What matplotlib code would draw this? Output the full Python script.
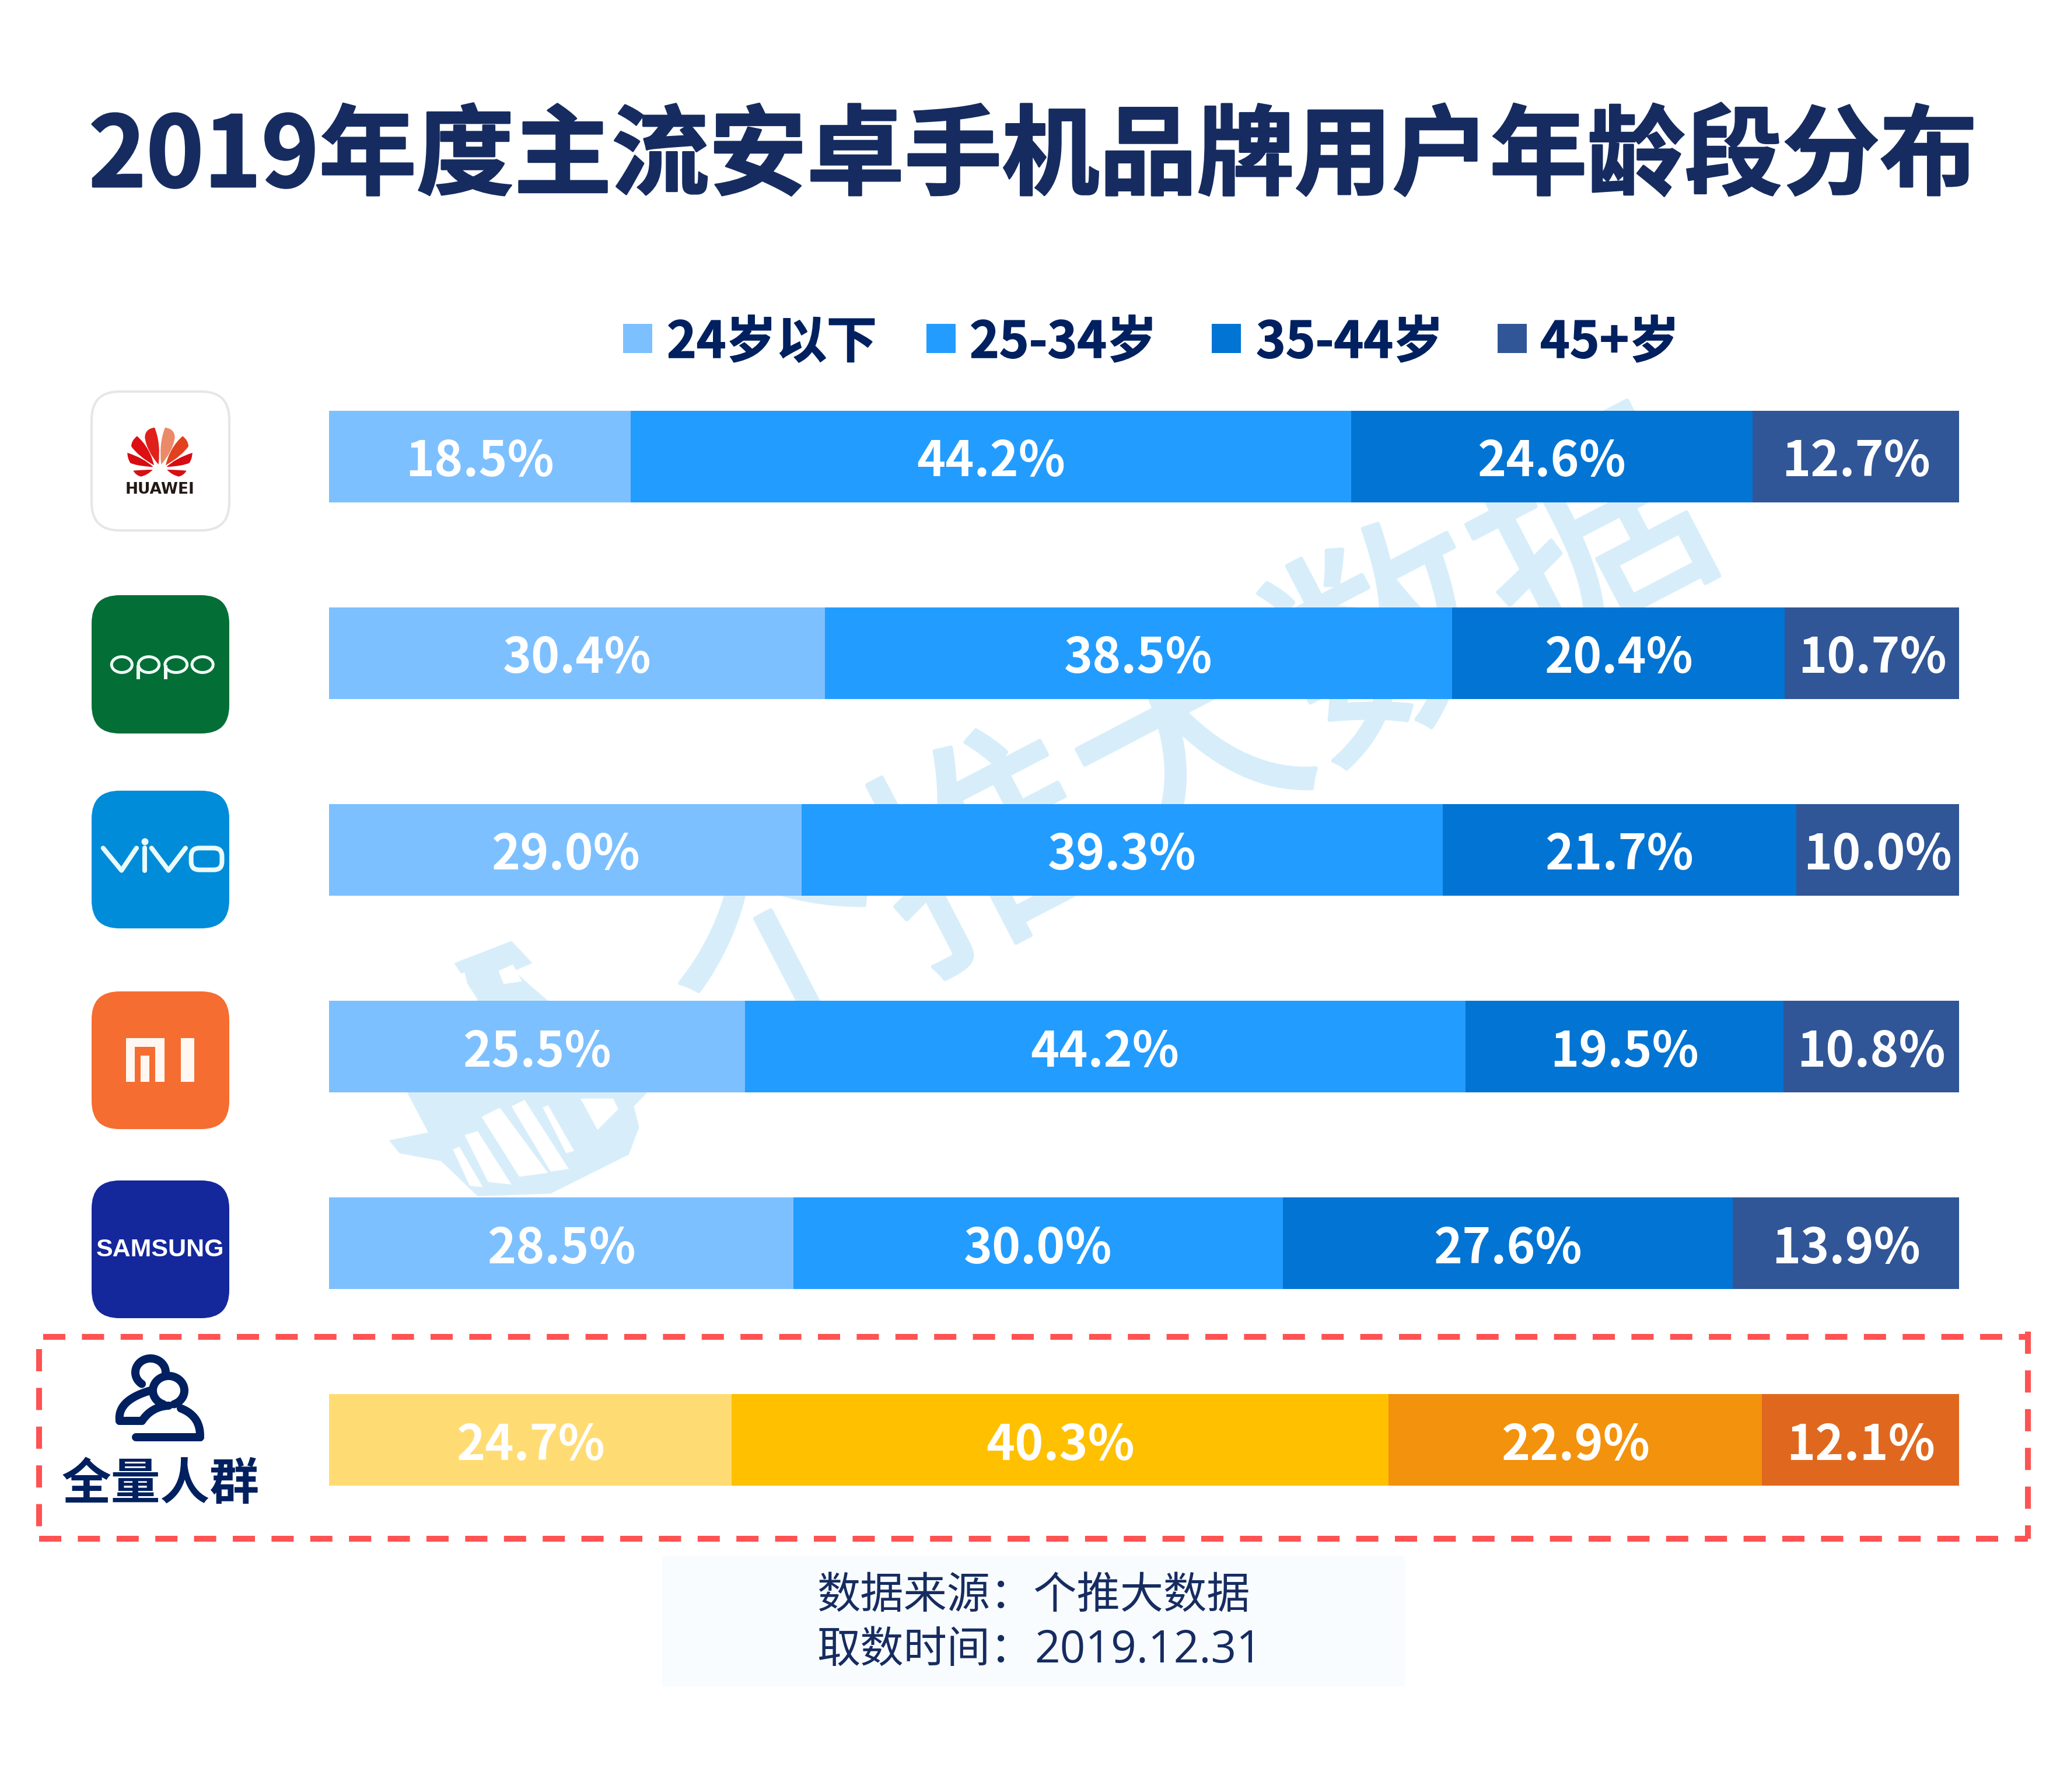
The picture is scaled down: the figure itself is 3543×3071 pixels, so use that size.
import numpy as np
import matplotlib
matplotlib.use("Agg")
import matplotlib.pyplot as plt
import matplotlib.patheffects as pe
from matplotlib.patches import FancyBboxPatch, Rectangle, Ellipse, Polygon, PathPatch
from matplotlib.path import Path

plt.rcParams['font.family'] = ['Noto Sans CJK SC', 'DejaVu Sans']
plt.rcParams['lines.scale_dashes'] = False

# data
brands = ['HUAWEI', 'OPPO', 'vivo', 'MI', 'SAMSUNG', '全量人群']
age_groups = ['24岁以下', '25-34岁', '35-44岁', '45+岁']
under_24 = [18.5, 30.4, 29.0, 25.5, 28.5, 24.7]
age_25_34 = [44.2, 38.5, 39.3, 44.2, 30.0, 40.3]
age_35_44 = [24.6, 20.4, 21.7, 19.5, 27.6, 22.9]
age_45_up = [12.7, 10.7, 10.0, 10.8, 13.9, 12.1]

blues = ['#7DC0FF', '#239CFF', '#0274D3', '#305697']
oranges = ['#FFDC73', '#FFC000', '#F3920D', '#E0681E']
navy = '#162C60'
dark = '#00205F'
wm_blue = '#D7EEFA'
dash_red = '#FF5252'
mi_orange = '#F56D30'

W, H = 3543, 3071
dpi = 100
pt = 72 / dpi   # one image pixel in points

fig = plt.figure(figsize=(W / dpi, H / dpi), dpi=dpi, facecolor='white')

# background layer works in image pixels
bg = fig.add_axes([0, 0, 1, 1], zorder=0)
bg.set_xlim(0, W)
bg.set_ylim(H, 0)
bg.axis('off')

# watermark
bg.text(2045, 1298, '个推大数据', rotation=27.5, rotation_mode='anchor', ha='center', va='center',
        fontsize=280, color=wm_blue,
        path_effects=[pe.withStroke(linewidth=7 * pt, foreground=wm_blue)])


def bird(x, y):
    return (x / 2.24 + 600, y / 2.24 + 1530)


body = [(490, 410), (400, 270), (620, 185), (700, 270), (630, 300), (680, 345), (755, 410), (1140, 768),
        (1090, 820), (1110, 900), (1070, 1005), (770, 1155), (490, 1165), (350, 1030), (190, 1000),
        (150, 950), (300, 920), (220, 768)]
bg.add_patch(Polygon([bird(*p) for p in body], fc=wm_blue, ec='none'))
holes = [
    [(885, 790), (1010, 790), (1030, 830), (950, 910)],
    [(505, 860), (575, 825), (760, 1075), (650, 1090)],
    [(620, 820), (670, 795), (840, 1060), (770, 1070)],
    [(440, 930), (490, 915), (620, 1120), (530, 1110)],
    [(395, 985), (420, 975), (510, 1130), (460, 1125)],
    [(740, 825), (760, 815), (860, 990), (830, 1000)],
    [(570, 300), (625, 275), (660, 340), (590, 350)],
    [(400, 320), (440, 305), (450, 345), (420, 350)],
]
for h in holes:
    bg.add_patch(Polygon([bird(*p) for p in h], fc='white', ec='none'))

# title and legend
bg.text(152, 320, '2019年度主流安卓手机品牌用户年龄段分布', fontsize=120.4, fontweight='bold',
        color=navy, ha='left', va='baseline',
        path_effects=[pe.withStroke(linewidth=3 * pt, foreground=navy)])

square_x = [1068, 1588, 2077, 2567]
text_x = [1143, 1662, 2153, 2640]
for name, c, sx, tx in zip(age_groups, blues, square_x, text_x):
    bg.add_patch(Rectangle((sx, 555), 50, 50, fc=c, ec='none'))
    bg.text(tx, 613, name, fontsize=62, fontweight='bold', color=dark, ha='left', va='baseline',
            path_effects=[pe.withStroke(linewidth=1.5 * pt, foreground=dark)])


# brand tiles
def tile(y0, y1, color, edge='none', lw=0):
    bg.add_patch(FancyBboxPatch((157, y0), 236, y1 - y0, boxstyle='round,pad=0,rounding_size=48',
                                fc=color, ec=edge, lw=lw))


tile(671, 909, 'white', '#E6E6E6', 4 * pt)
tile(1020, 1257, '#046E37')
tile(1355, 1591, '#008CD9')
tile(1699, 1935, mi_orange)
tile(2023, 2259, '#14279B')


# huawei petals, left half from the zoomed logo then mirrored
def hw(x, y, mirror=False):
    if mirror:
        x = 2 * 252 - x
    return (x / 3 + 190, y / 3 + 710)


petals = [
    ([(245, 258), (185, 190), (175, 120), (175, 75), (225, 68), (258, 150), (245, 258)], '#E0201A', '#EB8A68'),
    ([(222, 262), (140, 215), (105, 165), (105, 135), (135, 112), (200, 170), (222, 262)], '#DE0F14', '#E2401F'),
    ([(218, 271), (130, 265), (100, 250), (85, 225), (85, 198), (170, 225), (218, 271)], '#D70C12', '#D70C12'),
    ([(215, 285), (160, 285), (115, 290), (130, 315), (155, 320), (190, 312), (215, 285)], '#D60F14', '#D60F14'),
]
for pts, left_c, right_c in petals:
    for mirror, c in ((False, left_c), (True, right_c)):
        verts = [hw(*p, mirror) for p in pts]
        codes = [Path.MOVETO] + [Path.CURVE3] * (len(verts) - 1)
        bg.add_patch(PathPatch(Path(verts, codes), fc=c, ec='none'))
bg.text(274, 846, 'HUAWEI', family='DejaVu Sans', fontsize=19, fontweight='bold', color='#231815',
        ha='center', va='baseline')


# oppo and vivo wordmarks
def z11(x, y):
    return (x / 2.916 + 150, y / 3 + 1080)


logo_white = '#EFFBF5'
for x0, x1 in ((113, 230), (247, 365), (380, 505), (515, 635)):
    cx, cy = z11((x0 + x1) / 2, 177)
    bg.add_patch(Ellipse((cx, cy), (x1 - x0) / 2.916 - 5, 27, fc='none', ec=logo_white, lw=5 * pt))
for sx in (255, 390):
    a, b = z11(sx, 180), z11(sx, 252)
    bg.plot([a[0], b[0]], [a[1], b[1]], color=logo_white, lw=6 * pt, solid_capstyle='butt')

vivo_lines = [[(78, 1120), (170, 1235), (245, 1120)], [(285, 1120), (285, 1235)],
              [(320, 1120), (405, 1235), (490, 1120)]]
for line in vivo_lines:
    pts = np.array([z11(*p) for p in line])
    bg.plot(pts[:, 0], pts[:, 1], color='#EAFBFB', lw=8 * pt, solid_capstyle='round', solid_joinstyle='round')
dot = z11(285, 1085)
bg.plot([dot[0]], [dot[1]], 'o', color='#EAFBFB', ms=12 * pt, mew=0)
a, b = z11(518, 1120), z11(672, 1232)
bg.add_patch(FancyBboxPatch(a, b[0] - a[0], b[1] - a[1], boxstyle='round,pad=0,rounding_size=14',
                            fc='none', ec='#EAFBFB', lw=8 * pt))


# mi logo
def z2(x, y):
    return (x / 1.3067, y / 1.493 + 1650)


def box(x0, y0, x1, y1, color):
    a, b = z2(x0, y0), z2(x1, y1)
    bg.add_patch(Rectangle(a, b[0] - a[0], b[1] - a[1], fc=color, ec='none'))


mi_white = '#FFF8F2'
box(282, 193, 368, 305, mi_white)
box(302, 215, 348, 305, mi_orange)
box(315, 237, 335, 305, mi_white)
box(405, 193, 435, 305, mi_white)

bg.text(275, 2153, 'SAMSUNG', family='Liberation Sans', fontsize=31, fontweight='bold',
        color='white', ha='center', va='baseline')

# people icon
icon_lw = 14 * pt


def stroke(xs, ys):
    bg.plot(xs, ys, color=dark, lw=icon_lw, solid_capstyle='round', solid_joinstyle='round')


def head(cx, cy, rx, ry, t0, t1):
    t = np.radians(np.linspace(t0, t1, 80))
    stroke(cx + rx * np.cos(t), cy - ry * np.sin(t))


head(258, 2352, 26, 24, 235, -5)
head(289, 2383, 27, 25, 250, -70)
for seq in ([(335, 1095), (262, 1120), (268, 1172)], [(268, 1172), (318, 1172)],
            [(318, 1172), (340, 1135), (378, 1133)], [(405, 1140), (450, 1160), (448, 1214)],
            [(448, 1214), (305, 1214)]):
    v = np.array([z2(*p) for p in seq])
    if len(v) == 3:
        t = np.linspace(0, 1, 40)[:, None]
        c = (1 - t) ** 2 * v[0] + 2 * t * (1 - t) * v[1] + t ** 2 * v[2]
        stroke(c[:, 0], c[:, 1])
    else:
        stroke(v[:, 0], v[:, 1])
bg.text(275, 2569, brands[5], fontsize=61, fontweight='bold', color=dark, ha='center', va='baseline')

# dashed frame of the last row
dash = {'color': dash_red, 'lw': 10 * pt, 'dash_capstyle': 'butt', 'dashes': (38 * pt, 28.4 * pt)}
bg.plot([74, 3476], [2291, 2291], **dash)
bg.plot([66.6, 3476], [2637, 2637], **dash)
bg.plot([66.6, 66.6], [2312, 2637], **dash)
bg.plot([3476, 3476], [2282, 2637], **dash)

# footer
bg.add_patch(Rectangle((1135, 2667), 1273, 223, fc='#F8FCFF', ec='none'))
bg.text(1400, 2756, '数据来源：个推大数据', fontsize=53.5, color=navy, ha='left', va='baseline')
bg.text(1400, 2849, '取数时间：', fontsize=53.5, color=navy, ha='left', va='baseline')
bg.text(1773, 2849, '2019.12.31', family='Open Sans', fontsize=55, color=navy, ha='left', va='baseline')

# bars, one unit on y is one row, x is percent
left_px, right_px = 564, 3358.5
row0_px, row_px = 782, 337.2
ax = fig.add_axes([left_px / W, 1 - (row0_px + 5.5 * row_px) / H,
                   (right_px - left_px) / W, 6 * row_px / H], zorder=1)
ax.patch.set_alpha(0)
ax.set_xlim(0, 100)
ax.set_ylim(5.5, -0.5)
ax.axis('off')

series = np.array([under_24, age_25_34, age_35_44, age_45_up])
rows = np.arange(len(brands))
lefts = np.zeros(len(brands))
for k, vals in enumerate(series):
    colors = [blues[k]] * 5 + [oranges[k]]
    ax.barh(rows, vals, left=lefts, height=157 / row_px, color=colors, linewidth=0)
    for r, v, l in zip(rows, vals, lefts):
        ax.text(l + v / 2, r + 34 / row_px, f'{v:.1f}%', color='white', fontsize=60, fontweight='bold',
                ha='center', va='baseline')
    lefts = lefts + vals

fig.savefig('out.png', dpi=dpi, facecolor='white')
